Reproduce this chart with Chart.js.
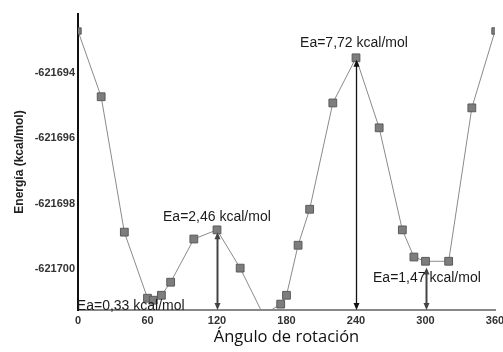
<!DOCTYPE html>
<html><head><meta charset="utf-8">
<script src="https://cdn.jsdelivr.net/npm/chart.js@4"></script>
<style>html,body{margin:0;padding:0;background:#fff}#w{width:503px;height:352px}</style>
</head><body><div id="w"><canvas id="c" width="503" height="352"></canvas></div>
<script>
const angles = [0, 20, 40, 60, 65, 72, 80, 100, 120, 140, 160, 175, 180, 190, 200, 220, 240, 260, 280, 290, 300, 320, 340, 360];
const energies = [-621692.72, -621694.73, -621698.87, -621700.89, -621700.95, -621700.8, -621700.4, -621699.08, -621698.8, -621699.97, -621701.4, -621701.07, -621700.8, -621699.27, -621698.17, -621694.92, -621693.54, -621695.68, -621698.8, -621699.63, -621699.76, -621699.76, -621695.07, -621692.72];
const xTicks = [0, 60, 120, 180, 240, 300, 360];
const yTicks = [-621700, -621698, -621696, -621694];
const eaTexts = ['Ea=0,33 kcal/mol', 'Ea=2,46 kcal/mol', 'Ea=7,72 kcal/mol', 'Ea=1,47 kcal/mol'];
const eaAngles = [-1, 73.4, 191.7, 254.7];
const eaEnergies = [-621701.13, -621698.41, -621693.09, -621700.27];
const arrowAngles = [120, 240, 300];
const arrowTops = [-621698.87, -621693.6, -621699.95];

const Y_MIN = -621701.25, Y_MAX = -621692.2;

const annot = {
  id: 'annot',
  afterDatasetsDraw(chart) {
    const {ctx, scales: {x, y}} = chart;
    ctx.save();
    arrowAngles.forEach((a, i) => {
      const px = Math.round(x.getPixelForValue(a)) + 0.5;
      const top = y.getPixelForValue(arrowTops[i]);
      const bot = y.getPixelForValue(Y_MIN);
      ctx.strokeStyle = i === 1 ? '#111' : '#444';
      ctx.fillStyle = ctx.strokeStyle;
      ctx.lineWidth = i === 1 ? 1.3 : 2;
      ctx.beginPath(); ctx.moveTo(px, top + 3); ctx.lineTo(px, bot - 3); ctx.stroke();
      const h = 7, w = 3;
      ctx.beginPath(); ctx.moveTo(px, top); ctx.lineTo(px - w, top + h); ctx.lineTo(px + w, top + h); ctx.closePath(); ctx.fill();
      ctx.beginPath(); ctx.moveTo(px, bot); ctx.lineTo(px - w, bot - h); ctx.lineTo(px + w, bot - h); ctx.closePath(); ctx.fill();
    });
    ctx.font = '14px "Liberation Sans", Arial, sans-serif';
    ctx.fillStyle = '#1a1a1a';
    ctx.textAlign = 'left';
    ctx.textBaseline = 'middle';
    eaTexts.forEach((t, i) => {
      ctx.fillText(t, x.getPixelForValue(eaAngles[i]), y.getPixelForValue(eaEnergies[i]));
    });
    ctx.restore();
  }
};

new Chart(document.getElementById('c'), {
  type: 'line',
  data: {
    datasets: [{
      data: angles.map((a, i) => ({x: a, y: energies[i]})),
      borderColor: '#8a8a8a',
      borderWidth: 1,
      backgroundColor: '#7a7a7a',
      pointBackgroundColor: '#7d7d7d',
      pointBorderColor: '#5a5a5a',
      pointBorderWidth: 1,
      pointStyle: 'rect',
      pointRadius: ctx => (ctx.dataIndex === 0 || ctx.dataIndex === angles.length - 1) ? 4.5 : 5.5,
      tension: 0,
      clip: 0
    }]
  },
  options: {
    responsive: false,
    animation: false,
    events: [],
    layout: {padding: {top: 14, right: 8, left: 0, bottom: 0}},
    plugins: {legend: {display: false}, tooltip: {enabled: false}},
    scales: {
      x: {
        type: 'linear', min: 0, max: 360,
        afterBuildTicks: s => { s.ticks = xTicks.map(v => ({value: v})); },
        afterFit: s => { s.height = 42; s.paddingLeft = 0; s.paddingRight = 0; },
        grid: {display: false, drawTicks: false},
        border: {display: true, color: '#888', width: 2},
        ticks: {padding: 4, maxRotation: 0, color: '#333', font: {family: '"Liberation Sans", Arial, sans-serif', size: 11, weight: 'bold'}},
        title: {display: true, text: 'Ángulo de rotación', color: '#111', padding: {top: 0, bottom: 5}, font: {family: '"Open Sans", sans-serif', size: 16.5}}
      },
      y: {
        type: 'linear', min: Y_MIN, max: Y_MAX,
        afterBuildTicks: s => { s.ticks = yTicks.map(v => ({value: v})); },
        afterFit: s => { s.width = 78; s.paddingTop = 0; s.paddingBottom = 0; },
        grid: {display: false, drawTicks: false},
        border: {display: true, color: '#111', width: 2},
        ticks: {padding: 3, color: '#333', font: {family: '"Liberation Sans", Arial, sans-serif', size: 11, weight: 'bold'}, callback: v => String(v)},
        title: {display: true, text: 'Energía (kcal/mol)', color: '#222', padding: {top: 12, bottom: 0}, font: {family: '"Liberation Sans", Arial, sans-serif', size: 12, weight: 'bold'}}
      }
    }
  },
  plugins: [annot]
});
</script>
</body></html>
